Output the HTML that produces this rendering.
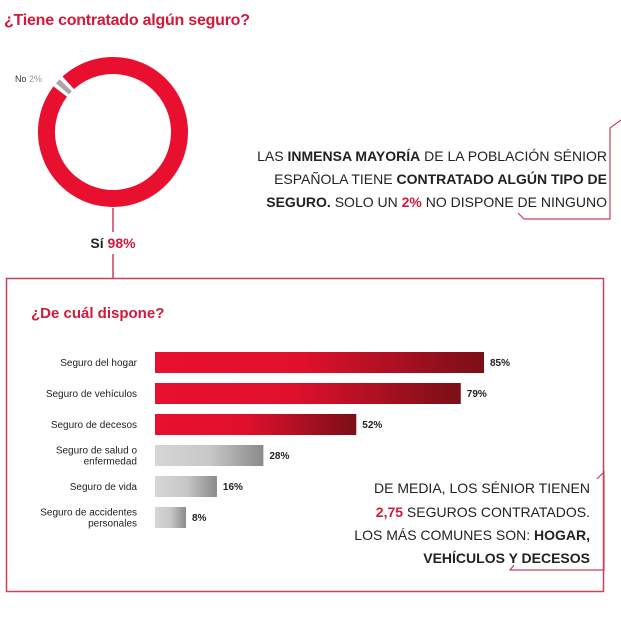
<!DOCTYPE html>
<html><head><meta charset="utf-8"><style>
html,body{margin:0;padding:0;background:#fff;}
svg{display:block;font-family:"Liberation Sans",sans-serif;}
</style></head><body>
<svg id="chart" width="621" height="621" viewBox="0 0 621 621">
<defs>
<linearGradient id="gRed" x1="0" x2="1" y1="0" y2="0"><stop offset="0" stop-color="#e8102e"/><stop offset="0.45" stop-color="#e0102c"/><stop offset="1" stop-color="#7a0f17"/></linearGradient>
<linearGradient id="gGray" x1="0" x2="1" y1="0" y2="0"><stop offset="0" stop-color="#d6d6d6"/><stop offset="0.5" stop-color="#c8c8c8"/><stop offset="1" stop-color="#8a8a8a"/></linearGradient>
</defs>
<text x="4" y="25" font-size="16" font-weight="bold" fill="#d11a3a" textLength="246">¿Tiene contratado algún seguro?</text>
<g id="donut"></g>
<text x="15" y="82" font-size="9" fill="#333">No <tspan fill="#999">2%</tspan></text>
<line x1="113" y1="208" x2="113" y2="232" stroke="#c8405a" stroke-width="1.5"/>
<text x="113" y="248" font-size="14" font-weight="bold" text-anchor="middle" fill="#222">Sí <tspan fill="#d11a3a">98%</tspan></text>
<line x1="113" y1="254" x2="113" y2="278" stroke="#c8405a" stroke-width="1.5"/>
<g font-size="14" fill="#222" text-anchor="end">
<text x="607" y="161">LAS <tspan font-weight="bold">INMENSA MAYORÍA</tspan> DE LA POBLACIÓN SÉNIOR</text>
<text x="607" y="184">ESPAÑOLA TIENE <tspan font-weight="bold">CONTRATADO ALGÚN TIPO DE</tspan></text>
<text x="607" y="207"><tspan font-weight="bold">SEGURO.</tspan> SOLO UN <tspan font-weight="bold" fill="#d11a3a">2%</tspan> NO DISPONE DE NINGUNO</text>
</g>
<polyline points="621,120 610,128 610,219 524,219 518,213" fill="none" stroke="#c8405a" stroke-width="1.2"/>
<rect x="6.5" y="278.5" width="597" height="313" fill="none" stroke="#c8405a" stroke-width="1.5"/>
<text x="31" y="318" font-size="15" font-weight="bold" fill="#d11a3a">¿De cuál dispone?</text>
<g id="bars"></g>
<g font-size="14" fill="#222" text-anchor="end">
<text x="590" y="493">DE MEDIA, LOS SÉNIOR TIENEN</text>
<text x="590" y="517"><tspan font-weight="bold" fill="#d11a3a">2,75</tspan> SEGUROS CONTRATADOS.</text>
<text x="590" y="540">LOS MÁS COMUNES SON: <tspan font-weight="bold">HOGAR,</tspan></text>
<text x="590" y="563" font-weight="bold">VEHÍCULOS Y DECESOS</text>
</g>
<polyline points="597,479 604,472 604,570 510,570 514,565" fill="none" stroke="#c8405a" stroke-width="1.2"/>
</svg>
<script>
const donutLabels = ["Sí", "No"];
const donutValues = [98, 2];
const categories = [["Seguro del hogar"], ["Seguro de vehículos"], ["Seguro de decesos"], ["Seguro de salud o", "enfermedad"], ["Seguro de vida"], ["Seguro de accidentes", "personales"]];
const values = [85, 79, 52, 28, 16, 8];
const valueLabels = ["85%", "79%", "52%", "28%", "16%", "8%"];
const highlighted = [true, true, true, false, false, false];

const NS = "http://www.w3.org/2000/svg";
function mk(tag, attrs, parent) { const e = document.createElementNS(NS, tag); for (const k in attrs) e.setAttribute(k, attrs[k]); parent.appendChild(e); return e; }

// donut
const dg = document.getElementById("donut");
const cx = 113, cy = 132, r = 66.5, sw = 17;
const total = donutValues.reduce((a, b) => a + b, 0);
const startDeg = 309; // angle (clockwise from top) where the "No" slice begins
function pt(deg) { const a = (deg - 90) * Math.PI / 180; return [cx + r * Math.cos(a), cy + r * Math.sin(a)]; }
let acc = startDeg + donutValues[1] / total * 360; // Sí starts after No
[0, 1].forEach(i => {
  const span = donutValues[i] / total * 360;
  const a0 = acc + 1.5, a1 = acc + span - 1.5;
  const p0 = pt(a0), p1 = pt(a1);
  const large = (a1 - a0) > 180 ? 1 : 0;
  const path = mk("path", { d: `M${p0[0]},${p0[1]} A${r},${r} 0 ${large} 1 ${p1[0]},${p1[1]}`, fill: "none", stroke: i === 0 ? "#e8102e" : "#a8a8a8", "stroke-width": sw }, dg);
  
  
  acc += span;
});

// bars
const bg = document.getElementById("bars");
const x0 = 155, pxPer = 329 / 85, top0 = 352, step = 31, bh = 21;
const xs = v => x0 + v * pxPer;
const ys = i => top0 + i * step;
values.forEach((v, i) => {
  const y = ys(i);
  const rect = mk("rect", { x: x0, y: y, width: xs(v) - x0, height: bh, fill: highlighted[i] ? "url(#gRed)" : "url(#gGray)" }, bg);
  
  
  const vl = mk("text", { x: xs(v) + 6, y: y + bh / 2 + 3.5, "font-size": 10, "font-weight": "bold", fill: "#222" }, bg);
  vl.textContent = valueLabels[i];
  
  
  const lines = categories[i];
  const cl = mk("text", { x: 137, "font-size": 10, fill: "#222", "text-anchor": "end" }, bg);
  
  
  lines.forEach((ln, j) => {
    const ts = mk("tspan", { x: 137, y: y + bh / 2 + 3.5 + (j - (lines.length - 1) / 2) * 11 }, cl);
    ts.textContent = ln;
  });
});
</script>
</body></html>
